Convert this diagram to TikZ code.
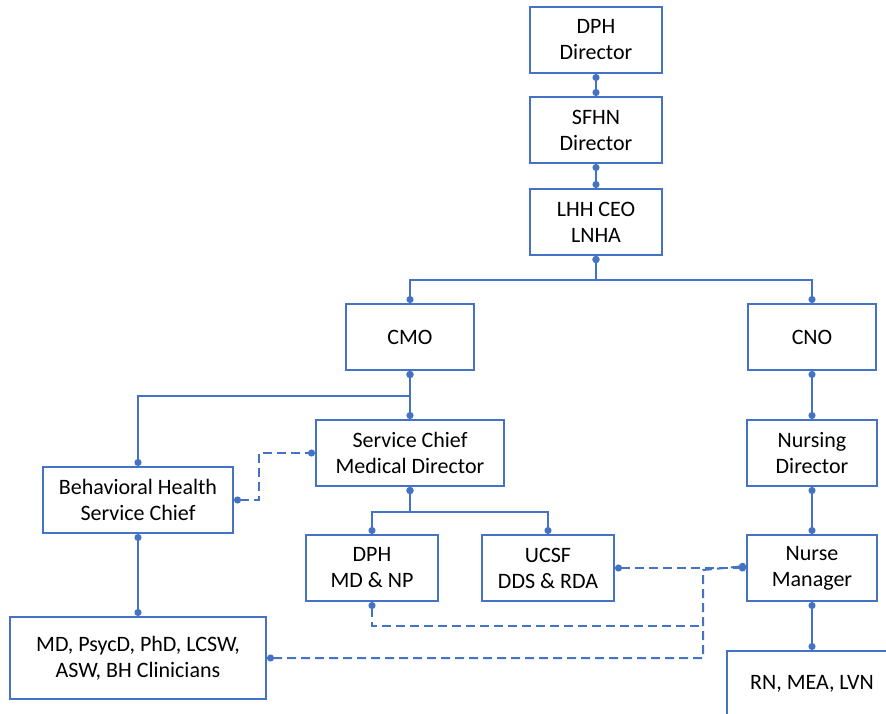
\documentclass[tikz,border=0pt]{standalone}
\usepackage{fontspec}
\setmainfont{Carlito}
\usetikzlibrary{arrows.meta}
\definecolor{bl}{HTML}{4472C4}
\begin{document}
\begin{tikzpicture}[x=1pt,y=-1pt,
  box/.style={draw=bl, line width=2pt, fill=white, align=center, inner sep=0pt,
    font=\fontsize{22}{26}\selectfont, text=black},
  con/.style={draw=bl, line width=2pt, {Circle[length=7pt]}-{Circle[length=7pt]}},
  dcon/.style={con, dash pattern=on 9pt off 5pt},
  dcons/.style={draw=bl, line width=2pt, dash pattern=on 9pt off 5pt, {Circle[length=7pt]}-}]
\useasboundingbox (0,0) rectangle (886,714);
\begin{scope}
\clip (0,0) rectangle (886,714);
\node[box, minimum width=132pt, minimum height=66pt] (dph) at (596,40) {DPH\\Director};
\node[box, minimum width=132pt, minimum height=66pt] (sfhn) at (596,130) {SFHN\\Director};
\node[box, minimum width=132pt, minimum height=66pt] (ceo) at (596,222) {LHH CEO\\LNHA};
\node[box, minimum width=128pt, minimum height=66pt] (cmo) at (410,337) {CMO};
\node[box, minimum width=128pt, minimum height=66pt] (cno) at (812,337) {CNO};
\node[box, minimum width=188pt, minimum height=66pt] (svc) at (410,453) {Service Chief\\Medical Director};
\node[box, minimum width=190pt, minimum height=66pt] (bh) at (138,500) {Behavioral Health\\Service Chief};
\node[box, minimum width=130pt, minimum height=66pt] (nd) at (812,453) {Nursing\\Director};
\node[box, minimum width=132pt, minimum height=66pt] (dphmd) at (372,568) {DPH\\MD \& NP};
\node[box, minimum width=132pt, minimum height=66pt] (ucsf) at (548,568) {UCSF\\DDS \& RDA};
\node[box, minimum width=130pt, minimum height=66pt] (nm) at (812,568) {Nurse\\Manager};
\node[box, minimum width=256pt, minimum height=82pt] (md) at (138,658) {MD, PsycD, PhD, LCSW,\\ASW, BH Clinicians};
\node[box, minimum width=170pt, minimum height=66pt] (rn) at (812,684) {RN, MEA, LVN};

\coordinate (j1) at (703,570);
\coordinate (j2) at (703,626);

\draw[con] (dph.south) -- (sfhn.north);
\draw[con] (sfhn.south) -- (ceo.north);
\draw[con] (ceo.south) -- ++(0,24) -| (cmo.north);
\draw[con] (ceo.south) -- ++(0,24) -| (cno.north);
\draw[con] (cmo.south) -- (svc.north);
\draw[con] (cmo.south) -- ++(0,25) -| (bh.north);
\draw[con] (svc.south) -- ++(0,25) -| (dphmd.north);
\draw[con] (svc.south) -- ++(0,25) -| (ucsf.north);
\draw[con] (cno.south) -- (nd.north);
\draw[con] (nd.south) -- (nm.north);
\draw[con] (bh.south) -- (md.north);
\draw[con] (nm.south) -- (rn.north);

\draw[dcon] (bh.east) -- ++(25,0) |- (svc.west);
\draw[dcon] (ucsf.east) -- (nm.west);
\draw[dcon] (md.east) -| (j1) -- ([yshift=2pt]nm.west);
\draw[dcons] (dphmd.south) |- (j2);
\end{scope}
\end{tikzpicture}
\end{document}
